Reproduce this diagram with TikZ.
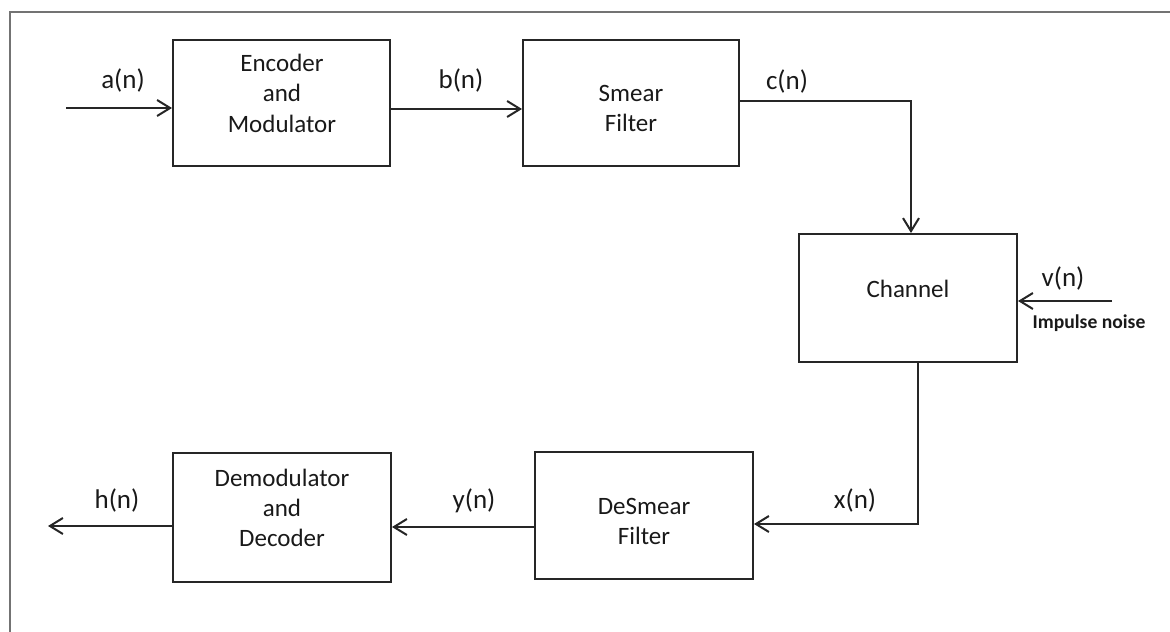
\documentclass[tikz,border=0pt]{standalone}
\usepackage{fontspec}
\setmainfont{Carlito}
\usetikzlibrary{arrows.meta}
\begin{document}
\begin{tikzpicture}[x=0.5pt,y=-0.5pt,
  box/.style={draw=black!85, line width=1pt, inner sep=0pt},
  txt/.style={font=\fontsize{12.5}{15}\selectfont, align=center, anchor=base, inner sep=0pt, text=black!90},
  lbl/.style={font=\fontsize{13.5}{15}\selectfont, anchor=base, inner sep=0pt, text=black!90},
  arr/.style={draw=black!85, line width=1pt, -{Straight Barb[length=6.5pt,width=8pt,line width=1pt]}},
  frame/.style={draw=black!55, line width=0.75pt}]
\useasboundingbox (0,0) rectangle (1170,631);
\draw[frame] (10,640) -- (10,12) -- (1180,12);
% boxes
\node[box, minimum width=108.5pt, minimum height=63pt] (enc) at (281.5,103) {};
\node[box, minimum width=108pt, minimum height=63pt] (smear) at (631,103) {};
\node[box, minimum width=109pt, minimum height=64pt] (chan) at (908,298) {};
\node[box, minimum width=109pt, minimum height=63.5pt] (desmear) at (644,515.5) {};
\node[box, minimum width=109pt, minimum height=64.5pt] (demod) at (282,517.5) {};
% box texts (anchor = baseline of last line)
\node[txt] (enctxt) at (282,132) {Encoder\\and\\Modulator};
\node[txt] (smeartxt) at (631,131) {Smear\\Filter};
\node[txt] (chantxt) at (908,297) {Channel};
\node[txt] (desmeartxt) at (644,544) {DeSmear\\Filter};
\node[txt] (demodtxt) at (282,546) {Demodulator\\and\\Decoder};
% labels
\node[lbl] (la) at (123,89) {a(n)};
\node[lbl] (lb) at (461,89) {b(n)};
\node[lbl] (lc) at (787,90) {c(n)};
\node[lbl] (lv) at (1063,286) {v(n)};
\node[font=\fontsize{9.8}{11}\selectfont\bfseries, anchor=base, inner sep=0pt, text=black!90] (lnoise) at (1089,328) {Impulse noise};
\node[lbl] (lx) at (855,508) {x(n)};
\node[lbl] (ly) at (474,508) {y(n)};
\node[lbl] (lh) at (117,508) {h(n)};
% connectors
\coordinate (ain) at (66,108);
\coordinate (vin) at (1112,301);
\coordinate (hout) at (48,526);
\draw[arr] (ain) -- (ain -| enc.west);
\draw[arr] ([yshift=-3pt]enc.east) -- ([yshift=-3pt]smear.west);
\draw[arr] ([yshift=1pt]smear.east) -| ([xshift=1.5pt]chan.north);
\draw[arr] (vin) -- (vin -| chan.east);
\draw[arr] ([xshift=5pt]chan.south) |- ([yshift=-4.25pt]desmear.east);
\draw[arr] ([yshift=-5.75pt]desmear.west) -- ([yshift=-4.75pt]demod.east);
\draw[arr] ([yshift=-4.25pt]demod.west) -- (hout);
\end{tikzpicture}
\end{document}
